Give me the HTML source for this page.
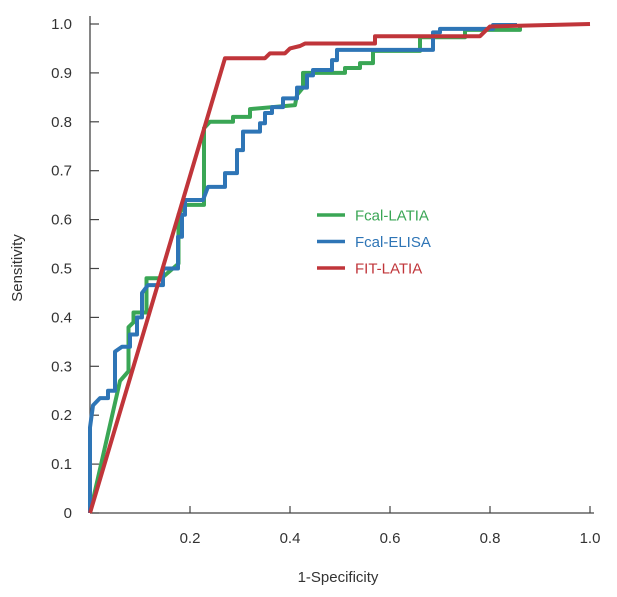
<!DOCTYPE html>
<html><head><meta charset="utf-8"><style>
body{margin:0;background:#fff}
text{font-family:"Liberation Sans",sans-serif;fill:#333}
</style></head><body>
<svg id="chart" width="617" height="592" xmlns="http://www.w3.org/2000/svg">
<g id="axes"></g><g id="series"></g><g id="legend"></g>
</svg>
<script>
const xTicks=[0.2,0.4,0.6,0.8,1.0];
const xTickLabels=["0.2","0.4","0.6","0.8","1.0"];
const yTicks=[0,0.1,0.2,0.3,0.4,0.5,0.6,0.7,0.8,0.9,1.0];
const yTickLabels=["0","0.1","0.2","0.3","0.4","0.5","0.6","0.7","0.8","0.9","1.0"];
const seriesNames=["Fcal-LATIA","Fcal-ELISA","FIT-LATIA"];
const greenX=[0,0.06,0.077,0.077,0.087,0.087,0.113,0.113,0.143,0.177,0.177,0.19,0.228,0.228,0.24,0.286,0.286,0.32,0.32,0.41,0.414,0.426,0.426,0.51,0.51,0.54,0.54,0.566,0.566,0.66,0.66,0.75,0.75,0.86,0.86];
const greenY=[0,0.27,0.29,0.38,0.39,0.41,0.41,0.48,0.48,0.51,0.61,0.63,0.63,0.787,0.80,0.80,0.81,0.81,0.826,0.834,0.855,0.87,0.90,0.90,0.91,0.91,0.92,0.92,0.945,0.945,0.973,0.973,0.988,0.988,0.995];
const blueX=[0,0,0.006,0.02,0.036,0.036,0.05,0.05,0.064,0.08,0.08,0.094,0.094,0.104,0.104,0.116,0.146,0.146,0.176,0.176,0.184,0.184,0.19,0.19,0.226,0.236,0.27,0.27,0.294,0.294,0.306,0.306,0.34,0.34,0.35,0.35,0.364,0.364,0.386,0.386,0.414,0.414,0.434,0.434,0.446,0.446,0.484,0.484,0.494,0.494,0.686,0.686,0.70,0.70,0.806,0.806,0.854];
const blueY=[0,0.175,0.22,0.235,0.235,0.25,0.25,0.33,0.34,0.34,0.365,0.365,0.40,0.40,0.45,0.466,0.466,0.50,0.50,0.565,0.565,0.61,0.61,0.64,0.64,0.667,0.667,0.695,0.695,0.742,0.742,0.78,0.78,0.797,0.797,0.818,0.818,0.83,0.83,0.848,0.848,0.87,0.87,0.895,0.895,0.906,0.906,0.926,0.926,0.947,0.947,0.983,0.983,0.99,0.99,0.998,0.998];
const redX=[0,0.27,0.35,0.36,0.39,0.40,0.42,0.43,0.57,0.57,0.78,0.80,1.0];
const redY=[0,0.93,0.93,0.94,0.94,0.95,0.955,0.96,0.96,0.975,0.975,0.995,1.0];
const colors=["#3aa655","#2e75b6","#c0353a"];
const X0=90,X1=590,Y0=513,Y1=24;
const sx=v=>X0+(X1-X0)*v, sy=v=>Y0-(Y0-Y1)*v;
const NS="http://www.w3.org/2000/svg";
function mk(tag,attrs,parent,txt){const e=document.createElementNS(NS,tag);for(const k in attrs)e.setAttribute(k,attrs[k]);if(txt!==undefined)e.textContent=txt;parent.appendChild(e);return e;}
const axes=document.getElementById('axes'),ser=document.getElementById('series'),leg=document.getElementById('legend');
let a=mk('line',{x1:X0,y1:Y1-8,x2:X0,y2:Y0,stroke:'#444','stroke-width':1.3},axes);

a=mk('line',{x1:X0,y1:Y0,x2:X1+4,y2:Y0,stroke:'#444','stroke-width':1.3},axes);

yTicks.forEach((v,i)=>{
 const t=mk('line',{x1:X0,x2:X0+9,y1:sy(v),y2:sy(v),stroke:'#444','stroke-width':1.2},axes);
 
 const l=mk('text',{x:72,y:sy(v)+5,'text-anchor':'end','font-size':15},axes,yTickLabels[i]);
 
});
xTicks.forEach((v,i)=>{
 const t=mk('line',{x1:sx(v),x2:sx(v),y1:Y0,y2:Y0-7,stroke:'#444','stroke-width':1.2},axes);
 
 const l=mk('text',{x:sx(v),y:543,'text-anchor':'middle','font-size':15},axes,xTickLabels[i]);
 
});
let tt=mk('text',{x:338,y:582,'text-anchor':'middle','font-size':15},axes,'1-Specificity');

tt=mk('text',{x:22,y:268,'text-anchor':'middle','font-size':15,transform:'rotate(-90 22 268)'},axes,'Sensitivity');

const data=[[greenX,greenY],[blueX,blueY],[redX,redY]];
[0,1,2].forEach(i=>{
 const [xs,ys]=data[i];
 const p=mk('polyline',{points:xs.map((x,j)=>sx(x)+','+sy(ys[j])).join(' '),fill:'none',stroke:colors[i],'stroke-width':4,'stroke-linejoin':'round'},ser);
 
 
});
seriesNames.forEach((n,i)=>{
 const y=215+i*26.5;
 const g=mk('g',{},leg);
 
 mk('line',{x1:317,x2:345,y1:y,y2:y,stroke:colors[i],'stroke-width':3.5},g);
 const t=mk('text',{x:355,y:y+5.5,'font-size':15},g,n);
 t.style.fill=colors[i];
});
</script>
</body></html>
